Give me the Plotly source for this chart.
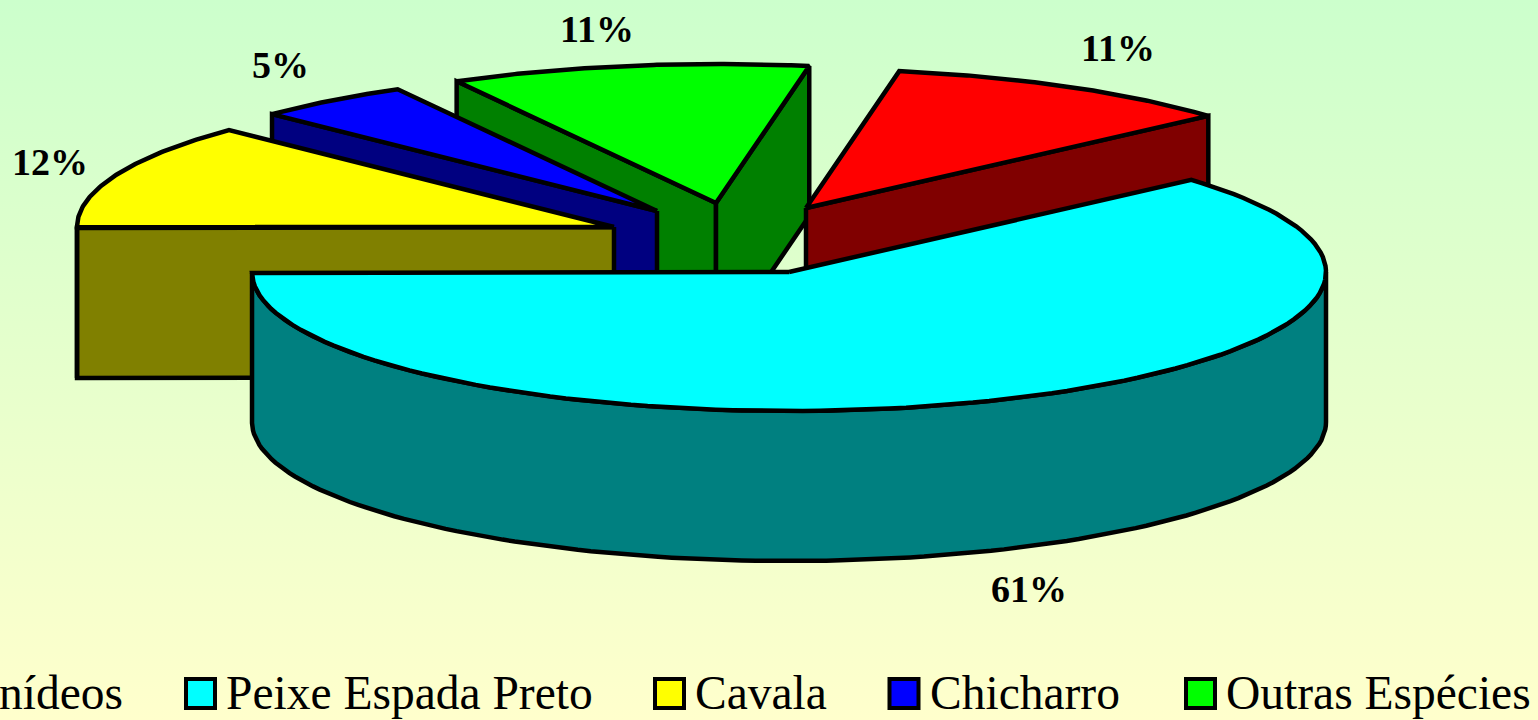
import numpy as np
import plotly.graph_objects as go

# ---- data ----
categories = ["Tunídeos", "Peixe Espada Preto", "Cavala", "Chicharro", "Outras Espécies"]
shares = [10.7, 61.4, 12.4, 4.7, 10.8]
percent_labels = [f"{round(v)}%" for v in shares]

# ---- styles ----
top_colors = ["#FF0000", "#00FFFF", "#FFFF00", "#0000FF", "#00FF00"]
side_colors = ["#800000", "#008080", "#808000", "#000080", "#008000"]
apex_x = [806, 789, 614, 657, 716]
apex_y = [208, 272, 227, 211, 203]
label_x = [1118, 1029, 50, 280, 597]
label_y = [48, 589, 162, 65, 29]
draw_order = [4, 3, 2, 0, 1]
swatch_x = [-60, 200.5, 669.5, 904, 1200.5]
W, H = 1538, 720
RX, RY, DEPTH, FIRST_ANGLE = 537, 139, 150, 80.0
OUTLINE = dict(color="black", width=4.5)

fig = go.Figure()


def poly(xs, ys, color):
    fig.add_trace(go.Scatter(
        x=list(xs) + [xs[0]], y=list(ys) + [ys[0]], mode="lines", fill="toself",
        fillcolor=color, line=OUTLINE, hoverinfo="skip", showlegend=False))


# background gradient
fig.add_trace(go.Scatter(
    x=[0, W, W, 0, 0], y=[0, 0, H, H, 0], mode="lines", fill="toself",
    line=dict(width=0), hoverinfo="skip", showlegend=False,
    fillgradient=dict(type="vertical",
                      colorscale=[[0, "#FFFFCC"], [1, "#CCFFCC"]])))

# slice angles, clockwise from FIRST_ANGLE
edges = FIRST_ANGLE - np.cumsum([0] + [v * 3.6 for v in shares])


def px(cx, a):
    return cx + RX * np.cos(np.radians(a))


def py(cy, a):
    return cy - RY * np.sin(np.radians(a))


for i in draw_order:
    hi, lo = edges[i], edges[i + 1]
    cx, cy = apex_x[i], apex_y[i]
    # radial faces that look towards the viewer
    for a, visible in ((hi, np.cos(np.radians(hi)) < 0), (lo, np.cos(np.radians(lo)) > 0)):
        if visible:
            ex, ey = px(cx, a), py(cy, a)
            poly([cx, ex, ex, cx], [cy, ey, ey + DEPTH, cy + DEPTH], side_colors[i])
    # outer wall: only the front half of the rim is visible
    w_hi, w_lo = min(hi, 0.0), max(lo, -180.0)
    if w_hi > w_lo:
        arc = np.linspace(w_hi, w_lo, 120)
        ax, ay = px(cx, arc), py(cy, arc)
        poly(list(ax) + list(ax[::-1]), list(ay) + list((ay + DEPTH)[::-1]), side_colors[i])
    # top
    arc = np.linspace(hi, lo, 120)
    poly([cx] + list(px(cx, arc)), [cy] + list(py(cy, arc)), top_colors[i])

# legend swatches and names
for i in range(len(categories)):
    if swatch_x[i] > 0:
        fig.add_trace(go.Scatter(
            x=[swatch_x[i]], y=[693.5], mode="markers", hoverinfo="skip", showlegend=False,
            marker=dict(symbol="square", size=29, color=top_colors[i],
                        line=dict(color="black", width=4))))
        tx, anchor = swatch_x[i] + 23.5, "left"
    else:
        tx, anchor = 125, "right"   # first entry runs off the left edge of the page
    fig.add_annotation(x=tx, y=693, text=categories[i], showarrow=False,
                       xanchor=anchor, yanchor="middle", xref="x", yref="y",
                       font=dict(family="Liberation Serif", size=47.5, color="black"))

# percent labels
for i in range(len(categories)):
    fig.add_annotation(x=label_x[i], y=label_y[i], text=percent_labels[i], showarrow=False,
                       xanchor="center", yanchor="middle", xref="x", yref="y",
                       font=dict(family="Liberation Serif", size=38, color="black",
                                 weight="bold"))

fig.update_layout(
    width=W, height=H, margin=dict(l=0, r=0, t=0, b=0, pad=0),
    paper_bgcolor="#FFFFCC", plot_bgcolor="rgba(0,0,0,0)", showlegend=False,
    xaxis=dict(range=[0, W], visible=False, fixedrange=True),
    yaxis=dict(range=[H, 0], visible=False, fixedrange=True),
)
fig.write_html("out.html", config=dict(displayModeBar=False),
               post_script="document.body.style.margin='0';document.body.style.overflow='hidden';")
